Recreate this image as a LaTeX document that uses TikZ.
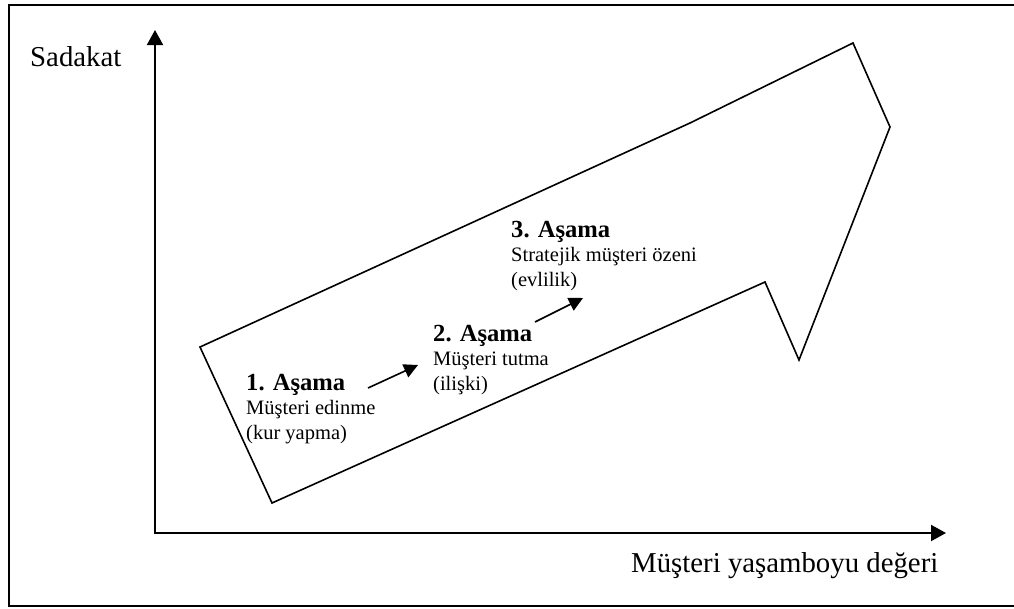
\documentclass[tikz,border=0pt]{standalone}
\usepackage{fontspec}
\setmainfont{Liberation Serif}
\usetikzlibrary{arrows.meta}
\newcommand{\stagehead}[1]{{\fontsize{24.6}{24}\selectfont\bfseries #1}}
\begin{document}
\begin{tikzpicture}[x=1pt,y=-1pt,
  frame/.style={line width=1.5pt},
  outline/.style={line width=1.6pt, line join=miter},
  axis/.style={line width=2pt, {Triangle[length=15pt,width=16pt]}-{Triangle[length=15pt,width=16pt]}},
  flow/.style={line width=1.6pt, -{Triangle[length=14pt,width=14pt]}},
  axislabel/.style={font=\fontsize{28.8}{33}\selectfont, inner sep=0pt, anchor=base west},
  stage/.style={font=\fontsize{20.5}{24.5}\selectfont, inner sep=0pt, anchor=north west, align=left},
]
\useasboundingbox (0,0) rectangle (1014,608);

% outer frame (open on the right)
\draw[frame] (1016,5) -- (9,5) -- (9,606) -- (1016,606);

% axes
\coordinate (O) at (155,533);
\coordinate (Ytip) at (155,30);
\coordinate (Xtip) at (946,533);
\draw[axis] (Ytip) -- (O) -- (Xtip);
\node[axislabel] (ylab) at (30,66) {Sadakat};
\node[axislabel] (xlab) at (631,572) {Müşteri yaşamboyu değeri};

% big rising arrow
\coordinate (t1) at (200,347);
\coordinate (t2) at (272,503);
\coordinate (n1) at (765,282);
\coordinate (h1) at (799,360);
\coordinate (h2) at (890,127);
\coordinate (h3) at (853,43);
\coordinate (n2) at (690,123);
\draw[outline] (t1) -- (t2) -- (n1) -- (h1) -- (h2) -- (h3) -- (n2) -- cycle;

% stages
\node[stage] (s1) at (246,374) {\stagehead{1. Aşama}\\Müşteri edinme\\(kur yapma)};
\node[stage] (s2) at (433,325) {\stagehead{2. Aşama}\\Müşteri tutma\\(ilişki)};
\node[stage] (s3) at (511,221) {\stagehead{3. Aşama}\\Stratejik müşteri özeni\\(evlilik)};

% steps between stages
\coordinate (a1s) at (368,388);
\coordinate (a1e) at (418,365);
\coordinate (a2s) at (535,322);
\coordinate (a2e) at (583,298);
\draw[flow] (a1s) -- (a1e);
\draw[flow] (a2s) -- (a2e);
\end{tikzpicture}
\end{document}
